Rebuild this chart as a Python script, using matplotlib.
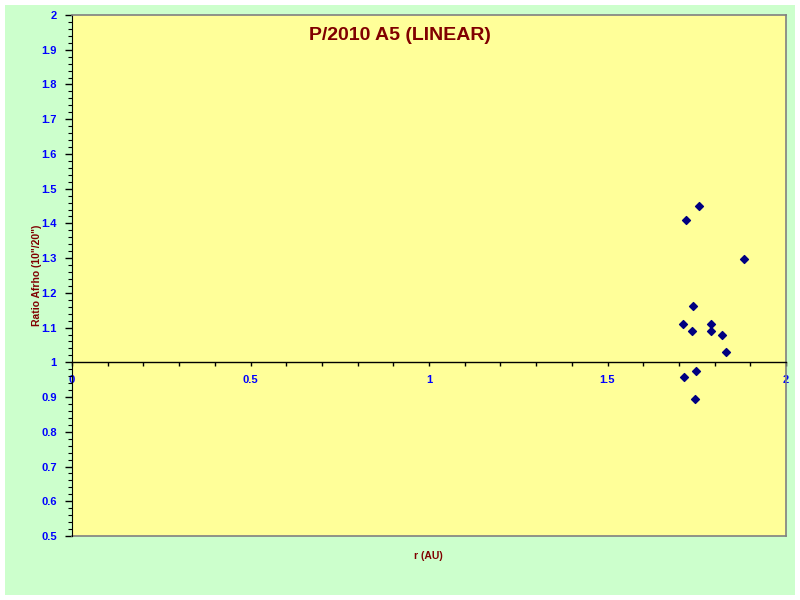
import matplotlib.pyplot as plt
from matplotlib.patches import Rectangle
from matplotlib.ticker import MultipleLocator, FixedLocator

plt.rcParams["font.family"] = ["Liberation Sans", "DejaVu Sans"]

# data
r_au = [1.757, 1.721, 1.883, 1.740, 1.712, 1.791, 1.738, 1.791, 1.822, 1.831, 1.749, 1.715, 1.746]
ratio = [1.449, 1.409, 1.297, 1.161, 1.110, 1.110, 1.089, 1.089, 1.078, 1.029, 0.974, 0.957, 0.895]

title = "P/2010 A5 (LINEAR)"
xlabel = "r (AU)"
ylabel = 'Ratio Afrho (10"/20")'

W, H = 800, 600
fig = plt.figure(figsize=(8, 6), dpi=100)
fig.patch.set_facecolor("white")
fig.add_artist(Rectangle((5 / W, 5 / H), 790 / W, 590 / H, transform=fig.transFigure,
                         facecolor="#CCFFCC", edgecolor="none", zorder=-10))

ax = fig.add_axes([72 / W, 1 - 536 / H, (786 - 72) / W, (536 - 15) / H])
ax.set_facecolor("#FFFF99")

ax.scatter(r_au, ratio, marker="D", s=16, color="#000080", zorder=5, clip_on=False)

ax.set_xlim(0, 2)
ax.set_ylim(0.5, 2)

# x axis crosses at ratio = 1
ax.spines["bottom"].set_position(("data", 1))
ax.spines["bottom"].set_color("black")
ax.spines["bottom"].set_linewidth(1)
for s in ["top", "right"]:
    ax.spines[s].set_color("#808080")
    ax.spines[s].set_linewidth(1.2)
ax.spines["left"].set_color("black")
ax.axhline(0.5, color="#808080", lw=1.2, clip_on=False)

ax.xaxis.set_major_locator(FixedLocator([0, 0.5, 1, 1.5, 2]))
ax.xaxis.set_minor_locator(MultipleLocator(0.1))
ax.xaxis.set_major_formatter(plt.FuncFormatter(lambda v, p: f"{v:g}"))
ax.yaxis.set_major_locator(MultipleLocator(0.1))
ax.yaxis.set_minor_locator(MultipleLocator(0.02))
ax.yaxis.set_major_formatter(plt.FuncFormatter(lambda v, p: f"{v:.1f}".rstrip("0").rstrip(".")))

ax.tick_params(axis="x", which="both", direction="out", length=3, width=1, color="black",
               labelsize=8, labelcolor="#0000FF", pad=6)
ax.tick_params(axis="y", which="major", direction="out", length=5, width=1,
               labelsize=8, labelcolor="#0000FF", pad=6)
ax.tick_params(axis="y", which="minor", direction="out", length=3, width=0.8)
for lbl in ax.get_xticklabels() + ax.get_yticklabels():
    lbl.set_fontweight("bold")

fig.text(400 / W, 1 - 35 / H, title, ha="center", va="center", fontsize=14,
         fontweight="bold", color="#800000")
fig.text(428 / W, 1 - 556 / H, xlabel, ha="center", va="center", fontsize=7.5,
         fontweight="bold", color="#800000")
fig.text(37 / W, 1 - 275 / H, ylabel, ha="center", va="center", rotation=90,
         fontsize=7.5, fontweight="bold", color="#800000")

fig.savefig("out.png", dpi=100, facecolor=fig.get_facecolor())
